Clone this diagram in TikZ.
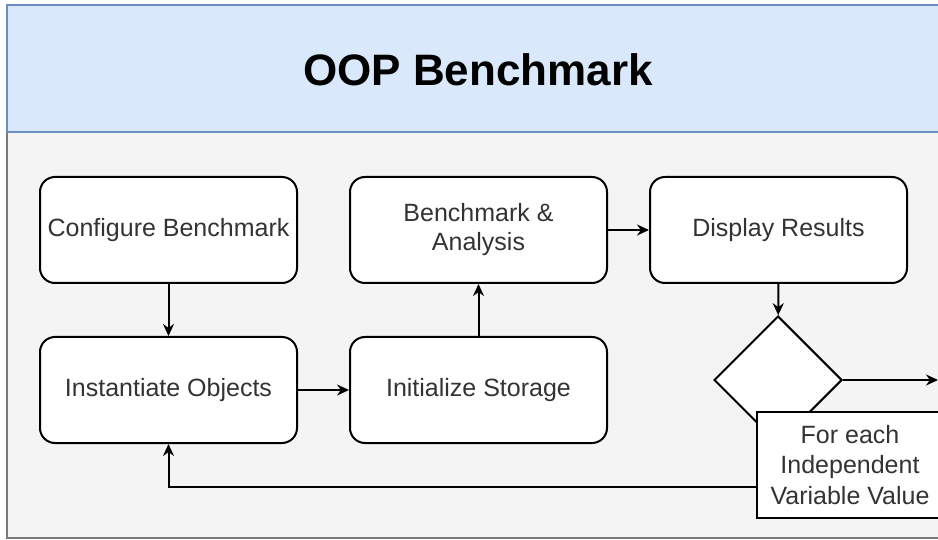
\documentclass[tikz,border=0pt]{standalone}
\usepackage{fontspec}
\setmainfont{Liberation Sans}
\usetikzlibrary{shapes.geometric,arrows.meta}
\definecolor{hdrfill}{HTML}{DAE8FC}
\definecolor{hdrline}{HTML}{6C8EBF}
\definecolor{bodyfill}{HTML}{F4F4F4}
\definecolor{bodyline}{HTML}{7A7A7A}
\definecolor{txt}{HTML}{333333}
\tikzset{
  stepbox/.style={draw=black, fill=white, rounded corners=15pt, line width=2pt,
    minimum width=257pt, minimum height=106pt, align=center, text=txt,
    font=\fontsize{25}{29}\selectfont, inner sep=0pt},
  decide/.style={draw=black, fill=white, diamond, aspect=1, line width=2pt,
    minimum size=128pt, inner sep=0pt},
  labelbox/.style={draw=black, fill=white, line width=2pt, minimum width=186pt,
    minimum height=106pt, align=center, text=txt, font=\fontsize{25}{30.5}\selectfont, inner sep=0pt},
  arr/.style={line width=2pt, -{Stealth[length=12pt,width=11pt]}},
}
\begin{document}
\begin{tikzpicture}[x=1pt,y=-1pt]
\useasboundingbox (0,0) rectangle (938,540);
\clip (0,0) rectangle (938,540);
\fill[white] (0,0) rectangle (938,540);
% frame
\draw[fill=bodyfill, draw=bodyline, line width=1.5pt] (7,132) rectangle (980,538);
\draw[fill=hdrfill, draw=hdrline, line width=1.5pt] (7,5) rectangle (980,132);
\node[font=\fontsize{44}{50}\selectfont\bfseries, text=black] (title) at (478,70) {OOP Benchmark};
% boxes
\node[stepbox] (conf) at (168.5,230) {Configure Benchmark};
\node[stepbox] (bench) at (478.5,230) {Benchmark \&\\Analysis};
\node[stepbox] (disp) at (778.5,230) {Display Results};
\node[stepbox] (inst) at (168.5,390) {Instantiate Objects};
\node[stepbox] (init) at (478.5,390) {Initialize Storage};
\node[decide] (dec) at (778,380) {};
\node[labelbox] (lbl) at (850,465) {For each\\Independent\\Variable Value};
\coordinate (out) at (938,380);
\coordinate (lp) at (757,487);
% connectors
\draw[arr] (conf) -- (inst);
\draw[arr] (inst) -- (init);
\draw[arr] (init) -- (bench);
\draw[arr] (bench) -- (disp);
\draw[arr] (disp) -- (dec);
\draw[arr] (dec.east) -- (out);
\draw[arr] (lp) -| (inst.south);
\end{tikzpicture}
\end{document}
